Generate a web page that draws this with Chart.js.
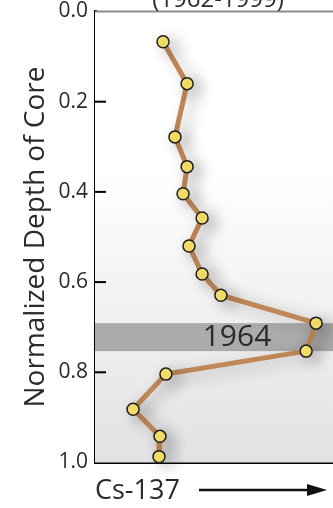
<!DOCTYPE html>
<html>
<head>
<meta charset="utf-8">
<script src="https://cdn.jsdelivr.net/npm/chart.js@4"></script>
<style>
  html, body { margin: 0; padding: 0; background: #ffffff; }
  #wrap { width: 333px; height: 508px; }
</style>
</head>
<body>
<div id="wrap"><canvas id="c" width="333" height="508"></canvas></div>
<script>
// Cs-137 activity (relative units) against normalized core depth
const cs137 = [28.6, 38.7, 33.6, 38.7, 37.0, 45.0, 39.5, 45.0, 52.9, 92.9, 88.7, 29.8, 16.0, 27.3, 26.9];
const depth = [0.067, 0.160, 0.278, 0.344, 0.404, 0.458, 0.520, 0.582, 0.629, 0.691, 0.753, 0.804, 0.882, 0.942, 0.987];
const depthTicks = [0.0, 0.2, 0.4, 0.6, 0.8, 1.0];
const peakBand = [0.691, 0.753];
const peakLabel = '1964';
const periodLabel = '(1962-1999)';

const FONT = '"Open Sans", "Noto Sans", sans-serif';
const INK = '#2b2b2b';

const plotDecor = {
  id: 'plotDecor',
  beforeDatasetsDraw(chart) {
    const { ctx, chartArea: a, scales: { y } } = chart;
    ctx.save();
    // soft grey wash towards the bottom of the core
    const g = ctx.createLinearGradient(0, a.top, 0, a.bottom);
    g.addColorStop(0, '#ffffff');
    g.addColorStop(0.35, '#ffffff');
    g.addColorStop(1, '#e2e2e4');
    ctx.fillStyle = g;
    ctx.fillRect(a.left, a.top, a.right - a.left, a.bottom - a.top);

    // top frame line
    ctx.strokeStyle = '#8c8c8c';
    ctx.lineWidth = 2;
    ctx.beginPath();
    ctx.moveTo(a.left, a.top);
    ctx.lineTo(a.right, a.top);
    ctx.stroke();

    // 1964 peak band
    const b0 = y.getPixelForValue(peakBand[0]);
    const b1 = y.getPixelForValue(peakBand[1]);
    ctx.fillStyle = '#ababab';
    ctx.fillRect(a.left, b0, a.right - a.left, b1 - b0);
    ctx.fillStyle = INK;
    ctx.font = '30px ' + FONT;
    ctx.textAlign = 'center';
    ctx.textBaseline = 'middle';
    ctx.fillText(peakLabel, 237, (b0 + b1) / 2);

    // inward tick marks
    ctx.strokeStyle = '#000';
    ctx.lineWidth = 2;
    y.ticks.forEach(t => {
      if (t.value <= 0 || t.value >= 1) return;
      const py = y.getPixelForValue(t.value);
      ctx.beginPath();
      ctx.moveTo(a.left, py);
      ctx.lineTo(a.left + 11, py);
      ctx.stroke();
    });

    // period caption above the plot
    ctx.fillStyle = INK;
    ctx.font = '24px ' + FONT;
    ctx.textAlign = 'center';
    ctx.textBaseline = 'alphabetic';
    ctx.fillText(periodLabel, 218, 7);

    // direction arrow next to the axis name
    const ay = 490;
    ctx.strokeStyle = '#111';
    ctx.fillStyle = '#111';
    ctx.lineWidth = 2.5;
    ctx.beginPath();
    ctx.moveTo(199, ay);
    ctx.lineTo(312, ay);
    ctx.stroke();
    ctx.beginPath();
    ctx.moveTo(327, ay);
    ctx.lineTo(307, ay - 6);
    ctx.lineTo(307, ay + 6);
    ctx.closePath();
    ctx.fill();
    ctx.restore();
  },
  beforeDatasetDraw(chart) {
    const ctx = chart.ctx;
    ctx.save();
    ctx.shadowColor = 'rgba(0,0,0,0.28)';
    ctx.shadowBlur = 16;
    ctx.shadowOffsetX = 7;
    ctx.shadowOffsetY = 4;
  },
  afterDatasetDraw(chart) {
    chart.ctx.restore();
  }
};

new Chart(document.getElementById('c'), {
  type: 'line',
  data: {
    datasets: [{
      data: cs137.map((v, i) => ({ x: v, y: depth[i] })),
      borderColor: '#bf8657',
      borderWidth: 5,
      pointBackgroundColor: '#f6e06a',
      pointBorderColor: '#1e1e1e',
      pointBorderWidth: 1.5,
      pointRadius: 6,
      tension: 0,
      fill: false,
      clip: false
    }]
  },
  options: {
    responsive: false,
    animation: false,
    layout: { autoPadding: false, padding: { top: 11.5, right: 0, bottom: 0, left: 0 } },
    plugins: { legend: { display: false }, tooltip: { enabled: false } },
    scales: {
      x: {
        type: 'linear',
        min: 0,
        max: 100,
        grid: { display: false, drawTicks: false },
        border: { display: true, color: '#000', width: 3 },
        ticks: { display: false },
        title: {
          display: true,
          text: 'Cs-137',
          align: 'start',
          color: INK,
          font: { family: FONT, size: 27 },
          padding: { top: 0, bottom: 0 }
        },
        afterFit(s) { s.height = 45.5; s.paddingLeft = 0; s.paddingRight = 0; }
      },
      y: {
        type: 'linear',
        reverse: true,
        min: 0,
        max: 1,
        afterBuildTicks(s) { s.ticks = depthTicks.map(v => ({ value: v })); },
        grid: { display: false, drawTicks: false },
        border: { display: true, color: '#000', width: 3 },
        ticks: {
          padding: 7,
          color: INK,
          font: { family: FONT, size: 21 },
          callback: v => Number(v).toFixed(1)
        },
        title: {
          display: true,
          text: 'Normalized Depth of Core',
          color: INK,
          font: { family: FONT, size: 28 },
          padding: { top: 19, bottom: 0 }
        },
        afterFit(s) { s.width = 95; s.paddingTop = 0; s.paddingBottom = 0; }
      }
    }
  },
  plugins: [plotDecor]
});
</script>
</body>
</html>
